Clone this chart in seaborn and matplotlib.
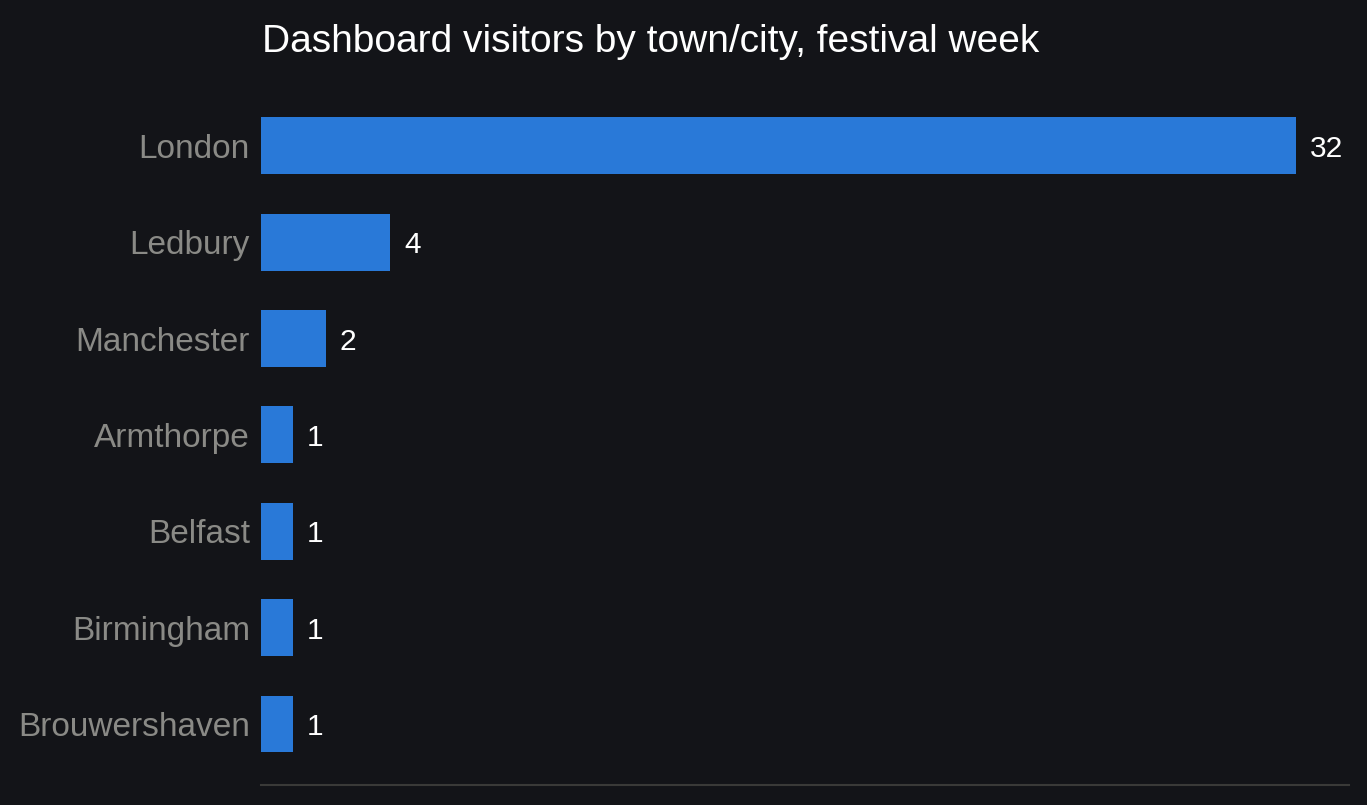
import matplotlib
matplotlib.use('Agg')
import matplotlib.pyplot as plt
import seaborn as sns
import pandas as pd

# data
towns = ['London', 'Ledbury', 'Manchester', 'Armthorpe', 'Belfast',
         'Birmingham', 'Brouwershaven']
visitors = [32, 4, 2, 1, 1, 1, 1]

bg = '#131418'
bar_color = '#2979d8'

df = pd.DataFrame({'Town': towns, 'Visitors': visitors})

sns.set_theme(style='dark')
plt.rcParams['font.family'] = ['Liberation Sans', 'DejaVu Sans']

fig = plt.figure(figsize=(13.67, 8.05), dpi=100, facecolor=bg)
ax = fig.add_axes([261 / 1367, 1 - 785 / 805, 1088 / 1367, (785 - 88) / 805])
ax.set_facecolor(bg)

sns.barplot(data=df, x='Visitors', y='Town', color=bar_color, width=0.59,
            saturation=1, linewidth=0, edgecolor=bar_color, ax=ax)

ax.set_xlim(0, 32 * 1088 / 1035)
ax.set_ylim(6 + 61 / 96.3, -0.6)

for p, v in zip(ax.patches, visitors):
    ax.annotate(f'{v}', (p.get_width(), p.get_y() + p.get_height() / 2),
                xytext=(10, 0), textcoords='offset points',
                ha='left', va='center_baseline', fontsize=21.5, color='white')

ax.set_xlabel('')
ax.set_ylabel('')
ax.set_xticks([])
ax.tick_params(axis='y', length=0, pad=8, labelsize=24, labelcolor='#8a8a86')
for lbl in ax.get_yticklabels():
    lbl.set_va('center_baseline')
ax.grid(False)
for side in ['top', 'right', 'left']:
    ax.spines[side].set_visible(False)
ax.spines['bottom'].set_color('#3a3a38')
ax.spines['bottom'].set_linewidth(1.5)

fig.text(262 / 1367, 1 - 38 / 805, 'Dashboard visitors by town/city, festival week',
         fontsize=28, color='white', ha='left', va='center_baseline')

fig.savefig('out.png', dpi=100, facecolor=bg)
plt.close(fig)
